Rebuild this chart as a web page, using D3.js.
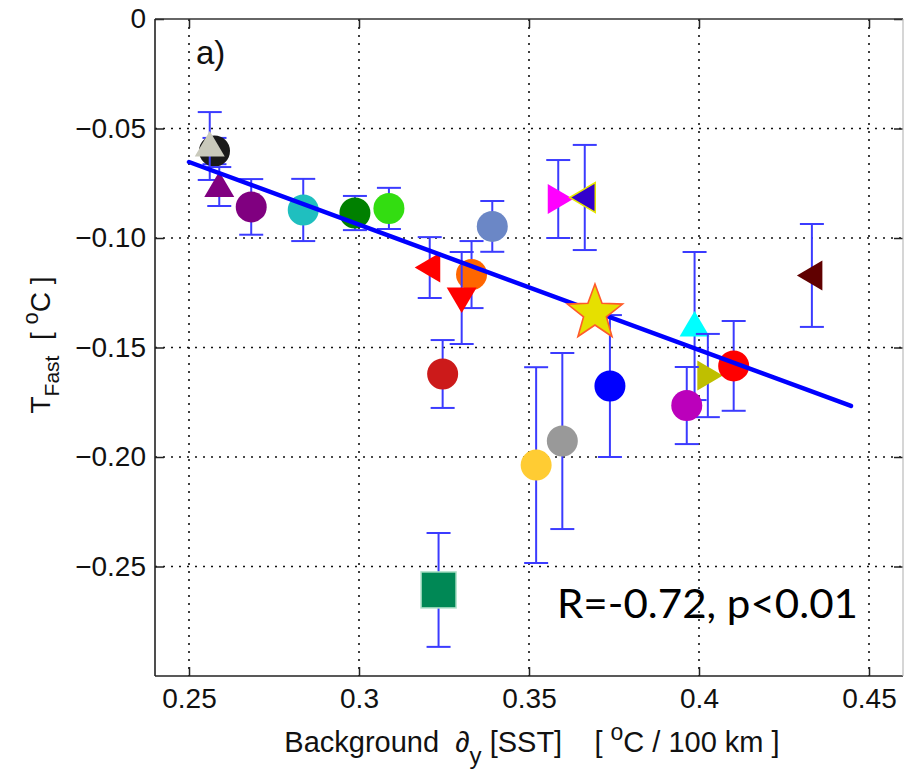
<!DOCTYPE html>
<html>
<head>
<meta charset="utf-8">
<script src="https://cdn.jsdelivr.net/npm/d3@7"></script>
<style>
  html, body { margin: 0; padding: 0; background: #fff; }
  svg { display: block; }
</style>
</head>
<body>
<svg id="chart" width="904" height="773"></svg>
<script>
// ---------------- data ----------------
const xTicks = [0.25, 0.3, 0.35, 0.4, 0.45];
const xTickLabels = ["0.25", "0.3", "0.35", "0.4", "0.45"];
const yTicks = [0, -0.05, -0.10, -0.15, -0.20, -0.25];
const yTickLabels = ["0", "\u22120.05", "\u22120.10", "\u22120.15", "\u22120.20", "\u22120.25"];

const pointX   = [0.2575, 0.2561, 0.2589, 0.2683, 0.2836, 0.2988, 0.3088, 0.3392, 0.3208, 0.3331, 0.3302, 0.3246, 0.3521, 0.3598, 0.3738, 0.3586, 0.3664, 0.3987, 0.4026, 0.3964, 0.4102, 0.4332, 0.3234];
const pointY   = [-0.0603, -0.0580, -0.0765, -0.0858, -0.0872, -0.0886, -0.0865, -0.0947, -0.1135, -0.1167, -0.1274, -0.1621, -0.2037, -0.1927, -0.1676, -0.0822, -0.0815, -0.1402, -0.1628, -0.1765, -0.1584, -0.1171, -0.2607];
const pointErr = [0.006, 0.0155, 0.0089, 0.0127, 0.0142, 0.0078, 0.0094, 0.0116, 0.0139, 0.0153, 0.0210, 0.0155, 0.0447, 0.0402, 0.0324, 0.0178, 0.0240, 0.0338, 0.0190, 0.0176, 0.0205, 0.0235, 0.0260];

const starX = [0.3694];
const starY = [-0.1329];

const fitX = [0.25, 0.4447];
const fitY = [-0.0653, -0.1767];

const annotation = "R=-0.72, p<0.01";
const panelLabel = "a)";

// marker styles (separate from data)
const markerShapes = ["circle", "up", "up", "circle", "circle", "circle", "circle", "circle", "left", "circle", "down", "circle", "circle", "circle", "circle", "right", "left", "up", "right", "circle", "circle", "left", "square"];
const markerFills  = ["#1a1a1a", "#c9c9bb", "#800080", "#800080", "#1fbfbf", "#008000", "#33dd11", "#6b87c6", "#ff0000", "#ff6600", "#ff0000", "#cc1a1a", "#ffcc33", "#999999", "#0000ff", "#ff00ff", "#3300cc", "#00ffff", "#bfbf00", "#bb00bb", "#ff0000", "#600000", "#008855"];
const markerStrokes= [null, null, null, null, null, null, null, null, null, null, null, null, null, null, null, null, "#e6e600", null, null, null, null, null, "#aee0c8"];

// ---------------- layout ----------------
const svg = d3.select("#chart");
const L = 155, R = 903, T = 19, B = 676;
const x = d3.scaleLinear().domain([0.24, 0.46]).range([L, R]);
const y = d3.scaleLinear().domain([-0.30, 0]).range([B, T]);
const FONT = "'Liberation Sans', Arial, sans-serif";

// grid
const grid = svg.append("g");
grid.selectAll("line.gx").data(xTicks).join("line")
  .attr("x1", d => x(d)).attr("x2", d => x(d)).attr("y1", T).attr("y2", B)
  .attr("stroke", "#111").attr("stroke-width", 1.6).attr("stroke-dasharray", "2,6");
grid.selectAll("line.gy").data(yTicks.slice(1)).join("line")
  .attr("y1", d => y(d)).attr("y2", d => y(d)).attr("x1", L).attr("x2", R)
  .attr("stroke", "#111").attr("stroke-width", 1.6).attr("stroke-dasharray", "2,6");

// axes
function styleAxis(g) {
  g.select(".domain").remove();
  g.selectAll(".tick line").attr("stroke", "#222").attr("stroke-width", 1.5);
  g.selectAll(".tick text").attr("fill", "#111").style("font-family", FONT).style("font-size", "28px");
}
svg.append("g").attr("transform", `translate(0,${B})`)
  .call(d3.axisBottom(x).tickValues(xTicks).tickFormat((d, i) => xTickLabels[i]).tickSize(-9).tickPadding(12))
  .call(styleAxis);
svg.append("g").attr("transform", `translate(0,${T})`)
  .call(d3.axisTop(x).tickValues(xTicks).tickFormat("").tickSize(-9))
  .call(styleAxis);
svg.append("g").attr("transform", `translate(${L},0)`)
  .call(d3.axisLeft(y).tickValues(yTicks).tickFormat((d, i) => yTickLabels[i]).tickSize(-9).tickPadding(9))
  .call(styleAxis);
svg.append("g").attr("transform", `translate(${R},0)`)
  .call(d3.axisRight(y).tickValues(yTicks).tickFormat("").tickSize(-9))
  .call(styleAxis);

// box
svg.append("line").attr("x1", L).attr("x2", R).attr("y1", T).attr("y2", T).attr("stroke", "#333").attr("stroke-width", 1.6);
svg.append("line").attr("x1", L).attr("x2", R).attr("y1", B).attr("y2", B).attr("stroke", "#222").attr("stroke-width", 1.6);
svg.append("line").attr("x1", L).attr("x2", L).attr("y1", T).attr("y2", B).attr("stroke", "#222").attr("stroke-width", 1.6);
svg.append("line").attr("x1", R).attr("x2", R).attr("y1", T).attr("y2", B).attr("stroke", "#bbb").attr("stroke-width", 1.2);

// points
const pts = svg.append("g");
const cap = 12;
const ebColor = "#3b3bff";
const tri = 15;
function markerPath(shape, s) {
  const h = s * 1.0;
  if (shape === "up") return `M0,${-h} L${s},${h*0.7} L${-s},${h*0.7} Z`;
  if (shape === "down") return `M0,${h} L${s},${-h*0.7} L${-s},${-h*0.7} Z`;
  if (shape === "left") return `M${-h},0 L${h*0.7},${-s} L${h*0.7},${s} Z`;
  if (shape === "right") return `M${h},0 L${-h*0.7},${-s} L${-h*0.7},${s} Z`;
  return "";
}
pointX.forEach((px, i) => {
  const cx = x(px), cy = y(pointY[i]);
  const yt = y(pointY[i] + pointErr[i]), yb = y(pointY[i] - pointErr[i]);
  const g = pts.append("g");
  g.append("line").attr("x1", cx).attr("x2", cx).attr("y1", yt).attr("y2", yb).attr("stroke", ebColor).attr("stroke-width", 2);
  g.append("line").attr("x1", cx - cap).attr("x2", cx + cap).attr("y1", yt).attr("y2", yt).attr("stroke", ebColor).attr("stroke-width", 2);
  g.append("line").attr("x1", cx - cap).attr("x2", cx + cap).attr("y1", yb).attr("y2", yb).attr("stroke", ebColor).attr("stroke-width", 2);
  const shape = markerShapes[i];
  let m;
  if (shape === "circle") {
    m = g.append("circle").attr("cx", cx).attr("cy", cy).attr("r", 15.5);
  } else if (shape === "square") {
    m = g.append("rect").attr("x", cx - 17.5).attr("y", cy - 18).attr("width", 35).attr("height", 36);
  } else {
    m = g.append("path").attr("d", markerPath(shape, tri)).attr("transform", `translate(${cx},${cy})`);
  }
  m.attr("fill", markerFills[i]);
  if (markerStrokes[i]) m.attr("stroke", markerStrokes[i]).attr("stroke-width", 1.5);
});

// fit line
svg.append("line")
  .attr("x1", x(fitX[0])).attr("y1", y(fitY[0]))
  .attr("x2", x(fitX[1])).attr("y2", y(fitY[1]))
  .attr("stroke", "#0000ff").attr("stroke-width", 4.5).attr("stroke-linecap", "round");

// star
const starPath = (() => {
  const ro = 29, ri = 12;
  let p = [];
  for (let k = 0; k < 10; k++) {
    const a = -Math.PI / 2 + k * Math.PI / 5;
    const r = k % 2 === 0 ? ro : ri;
    p.push([r * Math.cos(a), r * Math.sin(a)]);
  }
  return "M" + p.map(q => q.join(",")).join("L") + "Z";
})();
svg.selectAll("path.star").data(starX).join("path")
  .attr("d", starPath)
  .attr("transform", (d, i) => `translate(${x(d)},${y(starY[i]) + 3})`)
  .attr("fill", "#e6e000").attr("stroke", "#ff5a2a").attr("stroke-width", 1.6);

// annotation
svg.append("text").attr("x", 557).attr("y", 618)
  .attr("textLength", 301).attr("lengthAdjust", "spacingAndGlyphs")
  .style("font-family", "Lato, 'Open Sans', sans-serif").style("font-size", "40px").attr("fill", "#000")
  .text(annotation);

// panel label
svg.append("text").attr("x", 196).attr("y", 64)
  .style("font-family", FONT).style("font-size", "33px").attr("fill", "#111")
  .text(panelLabel);

// x axis title
const xt = svg.append("text").attr("x", 532).attr("y", 752).attr("text-anchor", "middle")
  .style("font-family", FONT).style("font-size", "29px").attr("fill", "#111").style("white-space", "pre");
xt.append("tspan").text("Background  \u2202");
xt.append("tspan").attr("dy", 12).style("font-size", "24px").text("y");
xt.append("tspan").attr("dy", -12).text(" [SST]    [ ");
xt.append("tspan").attr("dy", -12).style("font-size", "23px").text("o");
xt.append("tspan").attr("dy", 12).text("C / 100 km ]");

// y axis title
const yt = svg.append("text").attr("transform", "translate(50,345) rotate(-90)").attr("text-anchor", "middle")
  .style("font-family", FONT).style("font-size", "28px").attr("fill", "#111").style("white-space", "pre");
yt.append("tspan").text("T");
yt.append("tspan").attr("dy", 9).style("font-size", "21px").text("Fast");
yt.append("tspan").attr("dy", -9).text("  [ ");
yt.append("tspan").attr("dy", -12).style("font-size", "22px").text("o");
yt.append("tspan").attr("dy", 12).text("C ]");
</script>
</body>
</html>
